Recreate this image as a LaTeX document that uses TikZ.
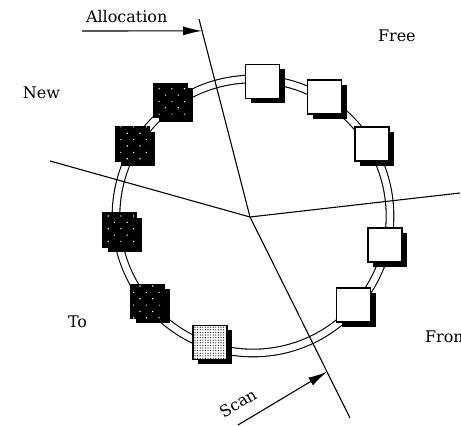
\documentclass[tikz,border=0pt]{standalone}
\usepackage{fontspec}
\setmainfont{DejaVu Serif}
\usetikzlibrary{arrows.meta,calc,patterns.meta,shadows}
\newcommand{\cellsize}{34pt}
\tikzstyle{cell}=[draw, inner sep=0, outer sep=0, minimum size=\cellsize,
                  % solid shadow to the lower right
                  general shadow={fill=black, shadow xshift=5pt, shadow yshift=-5pt}]
\tikzstyle{fcell}=[cell, fill=white]
\tikzstyle{tcell}=[cell, fill=black, postaction={pattern={Dots[distance=9pt, angle=45, radius=0.8pt]}, pattern color=white}]
\tikzstyle{scell}=[cell, fill=white, postaction={pattern={Dots[distance=2.6pt, radius=0.6pt]}}]
\tikzstyle{region}=[inner sep=0, outer sep=0, anchor=base west, font=\fontsize{16}{19}\selectfont]
\tikzstyle{pointer}=[-{Latex[length=19pt, width=9pt]}]

\begin{document}
\begin{tikzpicture}[x=1pt, y=1pt, line width=1.1pt]
    \useasboundingbox (0,0) rectangle (461,426);
    % heap ring
    \coordinate (ring) at (253,210);
    \draw[double, double distance=6.5pt] (ring) circle[radius=137pt];
    % partition lines
    \coordinate (hub) at (250,209);
    \coordinate (west) at (50,265);
    \coordinate (east) at (460,233);
    \coordinate (north) at (199,407);
    \coordinate (south) at (350,8);
    \draw (west) -- (hub) -- (east);
    \draw (north) -- (hub) -- (south);
    % free cells
    \node[fcell] (f1) at (262.5,344.5) {};
    \node[fcell] (f2) at (324.5,329) {};
    \node[fcell] (f3) at (372,282) {};
    \node[fcell] (f4) at (385,181) {};
    \node[fcell] (f5) at (353.5,121) {};
    % scanned cell
    \node[scell] (s1) at (210,83.5) {};
    % to-space cells
    \node[tcell] (t1) at (147.5,124.5) {};
    \node[tcell] (t2) at (119.5,196) {};
    \node[tcell] (t3) at (132.5,282) {};
    \node[tcell] (t4) at (170.5,325.5) {};
    % pointers
    \coordinate (allocstart) at (82,395);
    \coordinate (scanstart) at (238,1);
    \draw[pointer] (allocstart) -- ($(north)!0.06!(hub)$);
    \draw[pointer] (scanstart) -- ($(hub)!0.77!(south)$);
    % labels
    \node[region] (alloclabel) at (86,403) {Allocation};
    \node[region, anchor=center, rotate=31] (scanlabel) at (238,23) {Scan};
    \node[region] (newlabel) at (23,327) {New};
    \node[region] (freelabel) at (378,384) {Free};
    \node[region] (tolabel) at (68,98) {To};
    \node[region] (fromlabel) at (425,83) {From};
\end{tikzpicture}
\end{document}
